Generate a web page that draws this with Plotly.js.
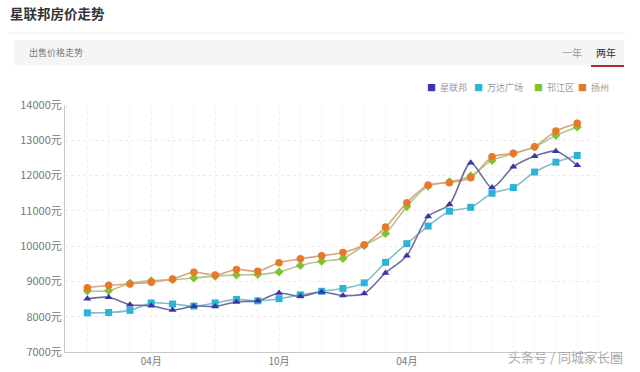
<!DOCTYPE html>
<html>
<head>
<meta charset="utf-8">
<script src="https://cdn.plot.ly/plotly-3.0.1.min.js"></script>
<style>html,body{margin:0;padding:0;background:#fff;}#chart{width:640px;height:372px;}</style>
</head>
<body>
<div id="chart"></div>
<script>
// months index 0..23 (two years, Jan..Dec)
const monthIdx = [0,1,2,3,4,5,6,7,8,9,10,11,12,13,14,15,16,17,18,19,20,21,22,23];
const tickPos = [3, 9, 15];
const tickText = ['04月', '10月', '04月'];
const seriesNames = ['星联邦', '万达广场', '邗江区', '扬州'];

const xinglianbang = [8510,8550,8340,8310,8190,8300,8290,8420,8450,8670,8580,8700,
                      8600,8660,9240,9730,10840,11180,12360,11660,12250,12550,12690,12290];
const wanda = [8110,8120,8180,8390,8360,8300,8390,8490,8450,8510,8620,8720,
               8800,8960,9540,10070,10570,10990,11100,11500,11660,12100,12380,12570];
const hanjiang = [8730,8740,8950,9020,9050,9100,9150,9185,9195,9270,9450,9570,
                  9650,10020,10360,11120,11700,11820,11990,12430,12620,12810,13140,13380];
const yangzhou = [8820,8890,8930,8980,9070,9260,9180,9340,9290,9530,9640,9730,
                  9820,10040,10540,11230,11730,11800,11940,12530,12630,12820,13260,13480];

const values = [xinglianbang, wanda, hanjiang, yangzhou];
const markerColors = ['#3b36a6', '#2cb4d8', '#82c232', '#e8792a'];
const lineColors = ['#6e6ca0', '#86bccb', '#b9c48c', '#d6a580'];
const symbols = ['triangle-up', 'square', 'diamond', 'circle'];
const sizes = [7, 7, 7, 7.5];

const traces = [];
[2,3,1,0].forEach(i => {
  traces.push({x: monthIdx, y: values[i], type:'scatter', mode:'lines+markers', name: seriesNames[i],
    showlegend:false,
    line:{color: lineColors[i], width:1.6, shape:'spline', smoothing:0.8},
    marker:{symbol: symbols[i], color: markerColors[i], size: sizes[i]}});
});

const W = 535, H = 247, L = 65, T = 105;
const px = x => (x - L) / W;
const py = y => (T + H - y) / H;
const cjk = '"Noto Sans CJK SC", "Noto Sans", sans-serif';

// legend built as text items (swatch glyph + series name)
const legendX = [425, 472, 532, 576];
const legendAnn = seriesNames.map((n, i) => ({
  text: '<span style="color:' + markerColors[i] + '">■</span>  ' + n,
  xref: 'paper', yref: 'paper', x: px(legendX[i]), y: py(88), xanchor: 'left', yanchor: 'middle',
  showarrow: false, font: {size: 9, color: '#999', family: cjk}
}));

const layout = {
  width: 640, height: 372,
  margin: {l: L, r: 640 - L - W, t: T, b: 372 - T - H},
  paper_bgcolor: '#fff', plot_bgcolor: '#fff',
  font: {family: cjk, size: 10, color: '#777'},
  showlegend: false,
  xaxis: {range: [-1.05, 24.07], tickvals: tickPos, ticktext: tickText, showgrid: false,
    showline: true, linecolor: '#c8c8c8', linewidth: 1, zeroline: false, ticks: '',
    tickfont: {size: 10, color: '#777', family: cjk},
    minor: {dtick: 1, tick0: 0, showgrid: true, gridcolor: '#f0f0f0', griddash: 'dot', gridwidth: 1}},
  yaxis: {range: [7000, 14000], dtick: 1000, tickformat: 'd', ticksuffix: '元', showline: true, linecolor: '#c8c8c8',
    gridcolor: '#ececec', griddash: 'dot', zeroline: false, ticks: '',
    tickfont: {size: 11, color: '#777', family: cjk}},
  shapes: [
    {type: 'line', xref: 'paper', yref: 'paper', x0: px(8), x1: px(625), y0: py(33), y1: py(33),
      line: {color: '#eeeeee', width: 1}},
    {type: 'rect', xref: 'paper', yref: 'paper', x0: px(14), x1: px(624), y0: py(65), y1: py(40),
      fillcolor: '#f5f5f5', line: {width: 0}, layer: 'below'},
    {type: 'line', xref: 'paper', yref: 'paper', x0: px(591), x1: px(624), y0: py(66), y1: py(66),
      line: {color: '#b3282d', width: 2}}
  ],
  annotations: [
    {text: '<b>星联邦房价走势</b>', xref: 'paper', yref: 'paper', x: px(8), y: py(13),
      xanchor: 'left', yanchor: 'middle', showarrow: false, font: {size: 13.5, color: '#333', family: cjk}},
    {text: '出售价格走势', xref: 'paper', yref: 'paper', x: px(27), y: py(52),
      xanchor: 'left', yanchor: 'middle', showarrow: false, font: {size: 9, color: '#777', family: cjk}},
    {text: '一年', xref: 'paper', yref: 'paper', x: px(572), y: py(52),
      xanchor: 'center', yanchor: 'middle', showarrow: false, font: {size: 10, color: '#999', family: cjk}},
    {text: '两年', xref: 'paper', yref: 'paper', x: px(606), y: py(52),
      xanchor: 'center', yanchor: 'middle', showarrow: false, font: {size: 10, color: '#333', family: cjk}},
    {text: '头条号 / 同城家长圈', xref: 'paper', yref: 'paper', x: px(565), y: py(356),
      xanchor: 'center', yanchor: 'middle', showarrow: false, font: {size: 13, color: '#aaa', family: cjk}}
  ].concat(legendAnn)
};

Plotly.newPlot('chart', traces, layout, {staticPlot: true, displayModeBar: false});
</script>
</body>
</html>
